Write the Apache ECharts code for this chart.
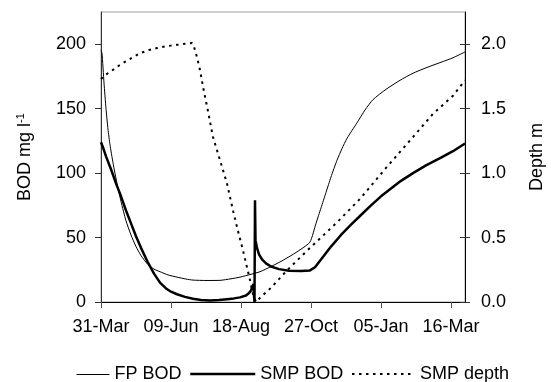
<!DOCTYPE html>
<html>
<head>
<meta charset="utf-8">
<script src="https://cdn.jsdelivr.net/npm/echarts@6/dist/echarts.min.js"></script>
<style>html,body{margin:0;padding:0;background:#fff}#c{width:551px;height:382px}</style>
</head>
<body>
<div id="c"></div>
<script>
// Days since 31-Mar
const xTickDays = [0, 70, 140, 210, 280, 350];
const xTickLabels = ['31-Mar', '09-Jun', '18-Aug', '27-Oct', '05-Jan', '16-Mar'];
const leftTicks = [0, 50, 100, 150, 200];
const rightTicks = [0, 0.5, 1.0, 1.5, 2.0];

const fpDays = [0,1,3,5,7,9,12,16,20,25,30,35,40,47,53,59,67,76,85,92,105,119,130,139,150,159,170,180,190,200,209,215,220,225,230,236,241,246,256,264,272,285,299,312,326,340,352,364];
const fpBod  = [195,193,170,150,134,122,108,92,78,63,52,43,36,29,25.5,23.5,21,19.3,17.8,17,16.7,16.8,18,19.3,21.5,23.5,27.5,31.5,36,41,46.5,61,73,85,97,110,119,127,139,149,157,165,172,177.5,182,186,189.5,194];

const smpDays = [0,2,5,10,15,20,25,30,35,40,47,53,59,65,70,76,84,92,100,109,118,126,133,139,145,148,150,151.5,152.5,153,153.5,154,154.5,156,158,161,165,170,178,188,200,209,214,220,230,240,250,260,270,280,290,300,312,325,340,352,364];
const smpBod  = [124,120,113,103,92,82,71,61,51,42,30.5,22,15,10.5,8,6,4,2.5,1.5,1.2,1.5,2.2,2.8,3.6,5,7,9,12,14,5,0,79,48,42,37,33,30,27.5,25.5,24.3,24,24.5,27,33,43,52,60,67.5,75,82,88,94,100,106,112,117,123];

const depthDays = [0,0.5,4,10,19,30,39,48,56,66,76,91,93,96,99,102,107,112,119,126,132,137,142,149,152,155,160,170,186,209,235,259,285,312,332,352,364];
const smpDepth  = [1.73,1.74,1.76,1.79,1.84,1.89,1.93,1.955,1.97,1.985,1.995,2.01,1.98,1.90,1.80,1.67,1.48,1.28,1.10,0.92,0.71,0.55,0.40,0.17,0.06,0.0,0.04,0.11,0.245,0.42,0.61,0.80,1.04,1.28,1.46,1.60,1.72];

const zip = (a, b) => a.map((v, i) => [v, b[i]]);
const FONT = "'Liberation Sans', Arial, sans-serif";
const txt = {color: '#000', fontFamily: FONT, fontSize: 18};
const legendBase = {padding: 0, itemHeight: 18, itemGap: 5, textStyle: txt, selectedMode: false,
  itemStyle: {opacity: 0}};

const chart = echarts.init(document.getElementById('c'), null, {renderer: 'canvas'});
chart.setOption({
  animation: false,
  backgroundColor: '#fff',
  grid: {left: 101, right: 86, top: 12, bottom: 80, show: true, borderColor: '#a0a0a0', borderWidth: 1,
    containLabel: false, outerBoundsMode: 'none'},
  legend: [
    {...legendBase, data: [{name: 'FP BOD', lineStyle: {width: 1, color: '#000'}}], left: 76, top: 365.5, itemWidth: 33},
    {...legendBase, data: [{name: 'SMP BOD', lineStyle: {width: 2.5, color: '#000'}}], left: 189, top: 365, itemWidth: 65},
    {...legendBase, data: ['SMP depth'], left: 351, top: 365, itemWidth: 63}
  ],
  xAxis: {
    type: 'value', min: 0, max: 364,
    axisLine: {show: true, lineStyle: {color: '#000', width: 1}},
    axisTick: {show: true, length: 6, inside: false, customValues: xTickDays, lineStyle: {color: '#555'}},
    axisLabel: {customValues: xTickDays, margin: 16, ...txt,
      formatter: v => { const i = xTickDays.indexOf(v); return i >= 0 ? xTickLabels[i] : ''; }},
    splitLine: {show: false}
  },
  yAxis: [
    {
      type: 'value', min: 0, max: 225, position: 'left',
      axisLine: {show: true, lineStyle: {color: '#333', width: 1}},
      axisTick: {show: true, length: 6, customValues: leftTicks, lineStyle: {color: '#333'}},
      axisLabel: {customValues: leftTicks, margin: 15, ...txt},
      splitLine: {show: false},
      name: '{a|BOD mg l}{b|-1}', nameLocation: 'middle', nameGap: 66,
      nameTextStyle: {...txt, rich: {a: {...txt}, b: {color: '#000', fontFamily: FONT, fontSize: 11, padding: [0, 0, 9, 0]}}}
    },
    {
      type: 'value', min: 0, max: 2.25, position: 'right',
      axisLine: {show: true, lineStyle: {color: '#000', width: 1}},
      axisTick: {show: true, length: 5, customValues: rightTicks, lineStyle: {color: '#333'}},
      axisLabel: {customValues: rightTicks, margin: 16, ...txt, formatter: v => v.toFixed(1)},
      splitLine: {show: false},
      name: 'Depth m', nameLocation: 'middle', nameGap: 63, nameTextStyle: txt
    },
    {
      type: 'value', min: 0, max: 2.25, position: 'right',
      axisLine: {show: false},
      axisTick: {show: true, inside: true, length: 5, customValues: rightTicks, lineStyle: {color: '#333'}},
      axisLabel: {show: false, customValues: rightTicks},
      splitLine: {show: false}
    }
  ],
  series: [
    {name: 'FP BOD', type: 'line', yAxisIndex: 0, symbol: 'none', showSymbol: false, data: zip(fpDays, fpBod),
      lineStyle: {color: '#000', width: 1}, itemStyle: {color: '#000'}, smooth: 0.2},
    {name: 'SMP BOD', type: 'line', yAxisIndex: 0, symbol: 'none', showSymbol: false, data: zip(smpDays, smpBod),
      lineStyle: {color: '#000', width: 2.5}, itemStyle: {color: '#000'}},
    {name: 'SMP depth', type: 'line', yAxisIndex: 1, symbol: 'none', showSymbol: false, data: zip(depthDays, smpDepth),
      lineStyle: {color: '#000', width: 2, type: [2.5, 4.5]}, itemStyle: {color: '#000'}}
  ]
});
</script>
</body>
</html>
